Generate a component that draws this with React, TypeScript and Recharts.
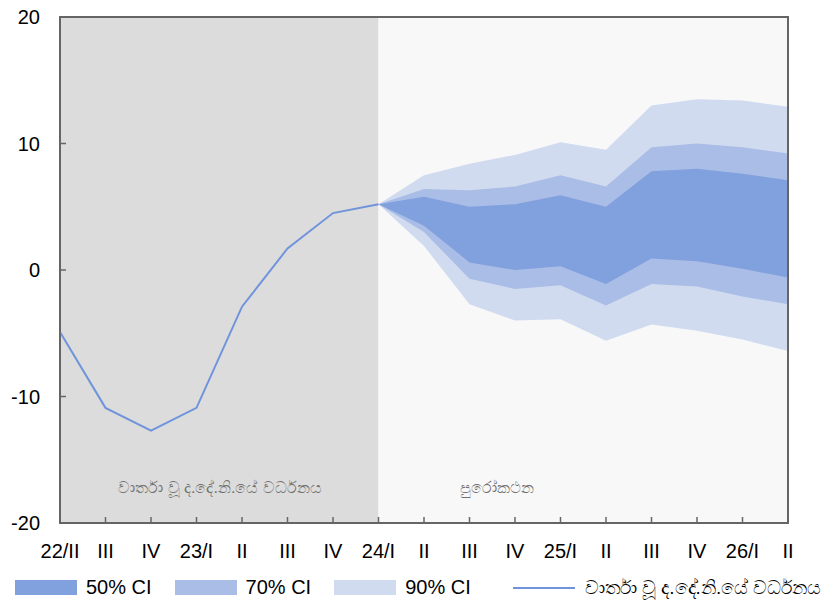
import React from 'react';
import {
  ComposedChart,
  Area,
  Line,
  XAxis,
  YAxis,
  ReferenceArea,
} from 'recharts';

// quarter labels along the bottom axis
const categories = ['22/II', 'III', 'IV', '23/I', 'II', 'III', 'IV', '24/I', 'II', 'III', 'IV', '25/I', 'II', 'III', 'IV', '26/I', 'II'];

// reported GDP growth (%), 22/II .. 24/I
const actual = [-4.9, -10.9, -12.7, -10.9, -2.9, 1.7, 4.5, 5.2];

// fan chart bands, 24/I .. 26/II
const hi90 = [5.2, 7.5, 8.4, 9.1, 10.1, 9.5, 13.0, 13.5, 13.4, 12.9];
const hi70 = [5.2, 6.4, 6.3, 6.6, 7.5, 6.6, 9.7, 10.0, 9.7, 9.2];
const hi50 = [5.2, 5.8, 5.0, 5.2, 5.9, 5.0, 7.8, 8.0, 7.6, 7.1];
const lo50 = [5.2, 3.5, 0.6, 0.0, 0.3, -1.1, 0.9, 0.7, 0.1, -0.6];
const lo70 = [5.2, 3.0, -0.7, -1.5, -1.2, -2.8, -1.1, -1.3, -2.1, -2.7];
const lo90 = [5.2, 1.9, -2.7, -4.0, -3.9, -5.6, -4.3, -4.8, -5.5, -6.4];

const yTicks = [-20, -10, 0, 10, 20];

const forecastStart = 7;

const histLabel = 'වාර්තා වූ ද.දේ.නි.යේ වර්ධනය';
const forecastLabel = 'පුරෝකථන';

const legendItems = [
  { label: '50% CI', color: '#80a0de', kind: 'box' },
  { label: '70% CI', color: '#aabde7', kind: 'box' },
  { label: '90% CI', color: '#d0dbef', kind: 'box' },
  { label: histLabel, color: '#7094dc', kind: 'line' },
];

const data = categories.map((label, i) => {
  const f = i - forecastStart;
  const inFan = f >= 0;
  return {
    key: `q${i}`,
    label,
    actual: i < actual.length ? actual[i] : null,
    band90: inFan ? [lo90[f], hi90[f]] : null,
    band70: inFan ? [lo70[f], hi70[f]] : null,
    band50: inFan ? [lo50[f], hi50[f]] : null,
  };
});

const axisColor = '#666';
const font = '"Liberation Sans", Arial, sans-serif';
const lastKey = `q${categories.length - 1}`;

const zoneLabel = (text: string, dx: number) => (props: any) => {
  const vb = props.viewBox || {};
  return (
    <text
      x={(vb.x ?? 0) + dx}
      y={(vb.y ?? 0) + (vb.height ?? 0) - 34}
      textAnchor="middle"
      dominantBaseline="middle"
      fill="#707070"
      fontSize={16}
      fontFamily={font}
    >
      {text}
    </text>
  );
};

const Legendrow = () => (
  <div
    style={{
      position: 'absolute',
      left: 15,
      top: 576,
      display: 'flex',
      alignItems: 'center',
      fontFamily: font,
      fontSize: 20,
      color: '#000',
      whiteSpace: 'nowrap',
    }}
  >
    {legendItems.map((it, i) => (
      <div key={i} style={{ display: 'flex', alignItems: 'center', marginRight: i === 2 ? 42 : 23 }}>
        {it.kind === 'box' ? (
          <div style={{ width: 62, height: 15, background: it.color, marginRight: 9 }} />
        ) : (
          <svg width={62} height={20} style={{ marginRight: 10 }}>
            <line x1={0} x2={62} y1={10} y2={10} stroke={it.color} strokeWidth={2} />
          </svg>
        )}
        <span style={{ fontSize: it.kind === 'line' ? 19 : 20 }}>{it.label}</span>
      </div>
    ))}
  </div>
);

export default function App() {
  return (
    <div style={{ position: 'absolute', left: 0, top: 0, width: 830, height: 606, background: '#fff' }}>
      <ComposedChart
        width={830}
        height={606}
        data={data}
        margin={{ top: 11, right: 36, bottom: 43, left: 0 }}
        style={{ fontFamily: font }}
      >
        <ReferenceArea
          x1="q0"
          x2={`q${forecastStart}`}
          y1={-20}
          y2={20}
          fill="#dcdcdc"
          fillOpacity={1}
          stroke="none"
          label={zoneLabel(histLabel, 160)}
        />
        <ReferenceArea
          x1={`q${forecastStart}`}
          x2={lastKey}
          y1={-20}
          y2={20}
          fill="#f8f8f8"
          fillOpacity={1}
          stroke="none"
          label={zoneLabel(forecastLabel, 118)}
        />
        <Area dataKey="band90" type="linear" fill="#d0dbef" fillOpacity={1} stroke="none" isAnimationActive={false} />
        <Area dataKey="band70" type="linear" fill="#aabde7" fillOpacity={1} stroke="none" isAnimationActive={false} />
        <Area dataKey="band50" type="linear" fill="#80a0de" fillOpacity={1} stroke="none" isAnimationActive={false} />
        <Line
          dataKey="actual"
          xAxisId="top"
          yAxisId="right"
          type="linear"
          stroke="#7094dc"
          strokeWidth={2}
          dot={false}
          isAnimationActive={false}
        />
        <XAxis
          dataKey="key"
          scale="point"
          height={40}
          interval={0}
          tickFormatter={(v: string, i: number) => categories[i] ?? v}
          tick={{ fill: '#000', fontSize: 20 }}
          tickSize={-6}
          tickMargin={27}
          stroke={axisColor}
          strokeWidth={1.5}
        />
        <XAxis
          xAxisId="top"
          dataKey="key"
          scale="point"
          orientation="top"
          height={6}
          interval={0}
          tick={false}
          tickSize={-6}
          stroke={axisColor}
          strokeWidth={1.5}
        />
        <YAxis
          domain={[-20, 20]}
          ticks={yTicks}
          width={60}
          tick={{ fill: '#000', fontSize: 20 }}
          tickSize={-6}
          tickMargin={26}
          stroke={axisColor}
          strokeWidth={1.5}
        />
        <YAxis
          yAxisId="right"
          orientation="right"
          domain={[-20, 20]}
          ticks={yTicks}
          width={6}
          tick={false}
          tickSize={-6}
          stroke={axisColor}
          strokeWidth={1.5}
        />
        {/* frame around the plot */}
        <ReferenceArea
          x1="q0"
          x2={lastKey}
          y1={-20}
          y2={20}
          fill="none"
          fillOpacity={0}
          stroke={axisColor}
          strokeWidth={2}
          strokeOpacity={1}
          ifOverflow="visible"
        />
      </ComposedChart>
      <Legendrow />
    </div>
  );
}
